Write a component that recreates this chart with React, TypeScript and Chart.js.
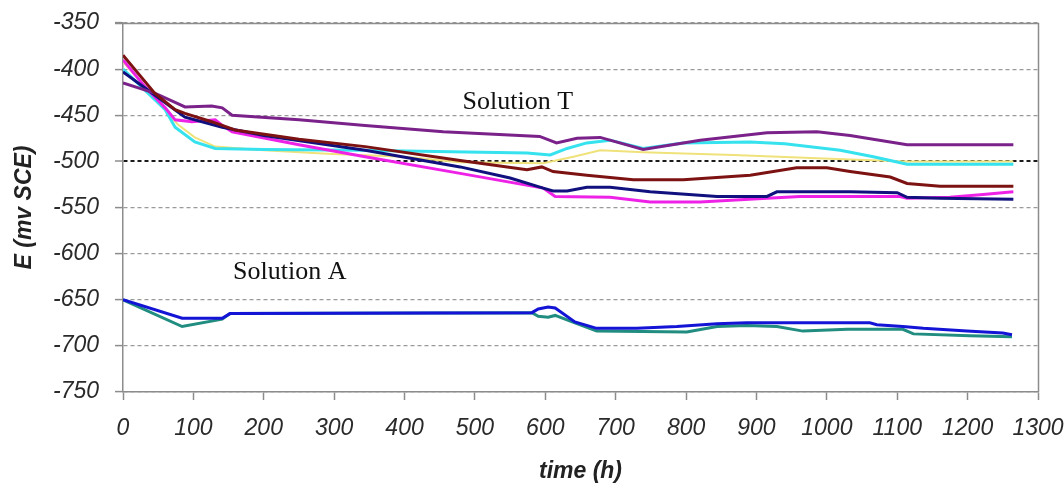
import React, { useEffect, useRef } from "react";
import { Chart, registerables } from "chart.js";

Chart.register(...registerables);

// ---- Solution A ----
const blueTime = [0, 84, 141, 152, 581, 590, 604, 614, 642, 673, 730, 787, 844, 886, 1061, 1071, 1108, 1137, 1199, 1250, 1263];
const blueE = [-650, -670, -670, -665, -664, -660, -658, -659, -674, -681, -681, -679, -676, -675, -675, -677, -679, -681, -684, -686, -688];

const tealTime = [0, 84, 141, 152, 581, 590, 604, 614, 642, 673, 801, 844, 886, 929, 966, 1029, 1108, 1123, 1203, 1263];
const tealE = [-650, -679, -671, -665, -664, -668, -669, -667, -675, -684, -685, -679, -678, -679, -684, -682, -682, -687, -689, -690];

// ---- Solution T ----
const purpleTime = [0, 45, 74, 88, 126, 141, 155, 250, 344, 455, 592, 616, 645, 678, 739, 820, 915, 986, 1033, 1114, 1265];
const purpleE = [-415, -426, -436, -441, -440, -442, -450, -455, -461, -468, -473, -480, -475, -474, -487, -477, -469, -468, -472, -482, -482];

const cyanTime = [0, 60, 74, 102, 131, 200, 337, 574, 607, 631, 659, 692, 739, 796, 891, 940, 1019, 1066, 1114, 1265];
const cyanE = [-400, -444, -463, -479, -486, -487, -488, -491, -493, -486, -480, -477, -486, -480, -479, -481, -488, -495, -503, -503];

const yellowTime = [0, 30, 60, 78, 102, 131, 200, 297, 400, 479, 597, 640, 678, 739, 867, 1033, 1114, 1265];
const yellowE = [-392, -418, -444, -460, -474, -484, -488, -492, -495, -501, -502, -495, -488, -490, -493, -498, -500, -500];

const maroonTime = [0, 45, 74, 88, 126, 141, 159, 250, 344, 479, 574, 595, 611, 659, 725, 796, 891, 957, 1000, 1033, 1090, 1114, 1161, 1265];
const maroonE = [-385, -426, -444, -448, -457, -461, -466, -476, -484, -499, -509, -506, -511, -515, -520, -520, -515, -507, -507, -511, -517, -524, -527, -527];

const navyTime = [0, 45, 88, 141, 200, 344, 479, 550, 597, 611, 631, 659, 692, 749, 844, 915, 929, 1033, 1100, 1114, 1161, 1265];
const navyE = [-403, -428, -452, -463, -472, -488, -506, -518, -529, -532, -532, -528, -528, -533, -538, -538, -533, -533, -534, -539, -540, -541];

const magentaTime = [0, 30, 60, 74, 98, 131, 141, 155, 250, 344, 479, 597, 614, 692, 749, 820, 915, 962, 1104, 1114, 1175, 1222, 1265];
const magentaE = [-390, -418, -442, -455, -457, -455, -461, -468, -482, -495, -513, -529, -538, -539, -544, -544, -540, -538, -538, -540, -539, -536, -533];

// ---- axes / labels ----
const xMin = 0;
const xMax = 1300;
const xStep = 100;
const yMin = -750;
const yMax = -350;
const yStep = 50;
const highlightLevel = -500;

const annotationLabels = ["Solution T", "Solution A"];
const annotationTimes = [561, 237];
const annotationE = [-436, -620];

const xTitle = "time (h)";
const yTitle = "E (mv SCE)";

const pairs = (t: number[], e: number[]) => t.map((x, i) => ({ x, y: e[i] }));

export default function App() {
  const ref = useRef<HTMLCanvasElement | null>(null);

  useEffect(() => {
    if (!ref.current) return;

    const extras = {
      id: "extras",
      afterDraw(chart: any) {
        const { ctx, chartArea, scales } = chart;
        ctx.save();
        ctx.strokeStyle = "#8c8c8c";
        ctx.lineWidth = 1.5;
        ctx.setLineDash([]);
        ctx.beginPath();
        ctx.moveTo(chartArea.left - 8, chartArea.top + 0.5);
        ctx.lineTo(chartArea.right + 0.5, chartArea.top + 0.5);
        ctx.lineTo(chartArea.right + 0.5, chartArea.bottom);
        ctx.stroke();

        ctx.fillStyle = "#111";
        ctx.font = '26px "Liberation Serif", "Times New Roman", serif';
        ctx.textAlign = "center";
        ctx.textBaseline = "middle";
        annotationLabels.forEach((lab, i) => {
          const x = scales.x.getPixelForValue(annotationTimes[i]);
          const y = scales.y.getPixelForValue(annotationE[i]);
          ctx.fillText(lab, x, y);
        });
        ctx.restore();
      },
    };

    const line = (data: any, color: string, width = 3) => ({
      data,
      borderColor: color,
      backgroundColor: color,
      borderWidth: width,
      pointRadius: 0,
      tension: 0,
      fill: false,
    });

    const tickFont = { family: '"Liberation Sans", Arial, sans-serif', size: 23, style: "italic" as const };
    const titleFont = { family: '"Liberation Sans", Arial, sans-serif', size: 23, style: "italic" as const, weight: "bold" as const, lineHeight: 1.0 };

    const chart = new Chart(ref.current, {
      type: "line",
      data: {
        datasets: [
          line(pairs(blueTime, blueE), "#1414d6"),
          line(pairs(tealTime, tealE), "#218c80"),
          line(pairs(maroonTime, maroonE), "#7d1212"),
          line(pairs(purpleTime, purpleE), "#7a228a"),
          line(pairs(navyTime, navyE), "#10107e"),
          line(pairs(magentaTime, magentaE), "#ee22e6"),
          line(pairs(cyanTime, cyanE), "#36e2ee"),
          line(pairs(yellowTime, yellowE), "#f0e27a", 2),
        ],
      },
      options: {
        responsive: false,
        animation: false,
        plugins: {
          legend: { display: false },
          tooltip: { enabled: false },
        },
        layout: { padding: { left: 0, top: 23, right: 26, bottom: 0 } },
        scales: {
          x: {
            type: "linear",
            min: xMin,
            max: xMax,
            afterFit: (s: any) => {
              s.height = 91;
              s.paddingLeft = 0;
              s.paddingRight = 0;
            },
            ticks: {
              stepSize: xStep,
              color: "#2a2a2a",
              padding: 15,
              maxRotation: 0,
              callback: (v: any) => String(v),
              font: tickFont,
            },
            grid: {
              drawOnChartArea: false,
              drawTicks: true,
              tickLength: 8,
              tickColor: "#8c8c8c",
              tickWidth: 1.5,
            },
            border: { display: true, color: "#8c8c8c", width: 1.5 },
            title: {
              display: true,
              text: xTitle,
              color: "#222",
              padding: { top: 0, bottom: 0 },
              font: titleFont,
            },
          },
          y: {
            type: "linear",
            min: yMin,
            max: yMax,
            afterFit: (s: any) => {
              s.width = 123;
              s.paddingTop = 0;
              s.paddingBottom = 0;
            },
            ticks: {
              stepSize: yStep,
              color: "#2a2a2a",
              padding: 16,
              callback: (v: any) => String(v),
              font: tickFont,
            },
            grid: {
              drawOnChartArea: true,
              drawTicks: true,
              tickLength: 8,
              color: (ctx: any) => (ctx.tick && ctx.tick.value === highlightLevel ? "#1a1a1a" : "#9a9a9a"),
              lineWidth: (ctx: any) => (ctx.tick && ctx.tick.value === highlightLevel ? 2 : 1.2),
              tickColor: "#8c8c8c",
              tickWidth: 1.5,
              tickBorderDash: [],
            },
            border: { display: true, color: "#8c8c8c", width: 1.5, dash: [4, 3] },
            title: {
              display: true,
              text: yTitle,
              color: "#222",
              padding: { top: 13, bottom: 0 },
              font: titleFont,
            },
          },
        },
      },
      plugins: [extras],
    });

    return () => chart.destroy();
  }, []);

  return (
    <div style={{ position: "absolute", left: 0, top: 0, width: 1064, height: 483, background: "#fff" }}>
      <canvas ref={ref} width={1064} height={483} style={{ display: "block" }} />
    </div>
  );
}
